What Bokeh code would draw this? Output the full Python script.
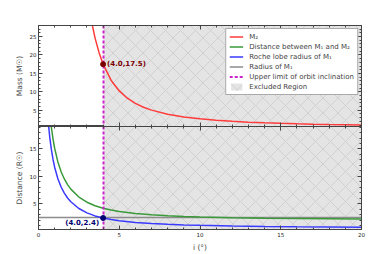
from bokeh.plotting import figure
from bokeh.layouts import column
from bokeh.models import (SingleIntervalTicker, LinearAxis, Legend, LegendItem,
                          Range1d, CustomJSTickFormatter)
from bokeh.embed import file_html
from bokeh.resources import INLINE
from bokeh.core.properties import value

# ---- data ----
incl_m2 = [3.3, 3.5, 3.75, 4.0, 4.5, 5.0, 5.5, 6.0, 6.5, 7.0, 8.0, 9.0, 10.0,
           11.0, 12.0, 13.0, 14.0, 15.0, 16.0, 17.0, 18.0, 19.0, 20.0]
m2_mass = [28.8, 24.65, 20.63, 17.5, 13.1, 10.25, 8.27, 6.88, 5.83, 5.04, 3.93,
           3.19, 2.675, 2.30, 2.01, 1.786, 1.605, 1.455, 1.335, 1.232, 1.143,
           1.066, 1.0]

incl_dist = [0.55, 0.6, 0.7, 0.8, 0.9, 1.0, 1.2, 1.4, 1.6, 1.8, 2.0, 2.5, 3.0,
             3.5, 4.0, 4.5, 5.0, 6.0, 7.0, 8.0, 9.0, 10.0, 12.0, 14.0, 16.0,
             18.0, 20.0]
separation = [27.47, 25.17, 21.59, 18.90, 16.80, 15.13, 12.63, 10.85, 9.52,
              8.49, 7.67, 6.22, 5.28, 4.64, 4.18, 3.84, 3.58, 3.21, 2.97, 2.80,
              2.67, 2.58, 2.45, 2.36, 2.30, 2.25, 2.21]
roche_radius = [21.9, 20.04, 17.06, 14.83, 13.08, 11.67, 9.57, 8.06, 6.94,
                6.05, 5.36, 4.13, 3.33, 2.78, 2.40, 2.11, 1.89, 1.59, 1.38,
                1.24, 1.14, 1.06, 0.94, 0.86, 0.80, 0.76, 0.72]

radius_m1 = 2.4
limit_i = 4.0
m2_at_limit = 17.5
excluded_start = 4.0
excluded_end = 20.0

x_range = (0, 20)
mass_range = (0.6, 28)
dist_range = (0.3, 19.1)

# ---- styles ----
RED = "#ff3b3b"
GREEN = "#3a9a3a"
BLUE = "#3a3aff"
GREY = "#8c8c8c"
MAGENTA = "#cc22cc"
FONT = "DejaVu Sans"
NAN = float("nan")

W = 381
LEFT = 38
RIGHT = 20


def style_axis(ax, hidden=False):
    ax.axis_line_color = "#444444"
    ax.major_tick_line_color = "#444444"
    ax.minor_tick_line_color = "#444444"
    ax.major_tick_in = 4
    ax.major_tick_out = 0
    ax.minor_tick_in = 2
    ax.minor_tick_out = 0
    ax.major_label_text_font = FONT
    ax.major_label_text_font_size = "5.5px"
    ax.major_label_text_color = "#222222"
    ax.axis_label_text_font = FONT
    ax.axis_label_text_font_size = "7.5px"
    ax.axis_label_text_font_style = "normal"
    ax.major_label_standoff = 2
    ax.axis_label_standoff = 3
    if hidden:
        ax.formatter = CustomJSTickFormatter(code="return ''")
        ax.major_label_standoff = 0


def make_ticker():
    return SingleIntervalTicker(interval=5, num_minor_ticks=5)


def finish_axes(p, show_x_labels):
    p.xaxis[0].ticker = make_ticker()
    p.yaxis[0].ticker = make_ticker()
    style_axis(p.xaxis[0], hidden=not show_x_labels)
    style_axis(p.yaxis[0])
    ra = LinearAxis(ticker=make_ticker())
    style_axis(ra, hidden=True)
    p.add_layout(ra, "right")
    ta = LinearAxis(ticker=make_ticker())
    style_axis(ta, hidden=True)
    p.add_layout(ta, "above")


# ---- top panel ----
p1 = figure(width=W, height=126, output_backend="svg", toolbar_location=None,
            x_range=Range1d(*x_range), y_range=Range1d(*mass_range),
            min_border_left=LEFT, min_border_right=RIGHT, min_border_top=25,
            min_border_bottom=0)
p1.yaxis.axis_label = "Mass (M\u2609)"
p1.grid.visible = False
p1.outline_line_color = "#444444"

strip1 = p1.vstrip(x0=[excluded_start], x1=[excluded_end], fill_color="#e4e4e4",
                   line_color=None, hatch_pattern="diagonal_cross",
                   hatch_color="#c2c2c2", hatch_scale=15, hatch_weight=0.6)
red = p1.line(incl_m2, m2_mass, line_color=RED, line_width=1.5)
lim1 = p1.vspan(x=[limit_i], line_color=MAGENTA, line_width=2, line_dash="3 2")
p1.scatter([limit_i], [m2_at_limit], size=5, fill_color="#7a0000", line_color="#7a0000")
p1.text([limit_i], [m2_at_limit], text=[f"({limit_i:.1f},{m2_at_limit:.1f})"],
        x_offset=4, text_baseline="middle", text_align="left",
        text_font=value(FONT), text_font_size="7px", text_font_style="bold",
        text_color="#7a0000")

# legend stand-ins for lines that are drawn in the bottom panel
g_dummy = p1.line([NAN], [NAN], line_color=GREEN, line_width=1.5)
b_dummy = p1.line([NAN], [NAN], line_color=BLUE, line_width=1.5)
r_dummy = p1.line([NAN], [NAN], line_color=GREY, line_width=1.5)

finish_axes(p1, show_x_labels=False)

legend = Legend(items=[
    LegendItem(label="M\u2082", renderers=[red]),
    LegendItem(label="Distance between M\u2081 and M\u2082", renderers=[g_dummy]),
    LegendItem(label="Roche lobe radius of M\u2081", renderers=[b_dummy]),
    LegendItem(label="Radius of M\u2081", renderers=[r_dummy]),
    LegendItem(label="Upper limit of orbit inclination", renderers=[lim1]),
    LegendItem(label="Excluded Region", renderers=[strip1]),
], location="top_right")
legend.label_text_font = FONT
legend.label_text_font_size = "7px"
legend.label_height = 9
legend.label_standoff = 6
legend.glyph_height = 9
legend.glyph_width = 14
legend.spacing = 1
legend.padding = 3
legend.margin = 3
legend.border_line_color = "#555555"
legend.border_line_width = 1
legend.background_fill_alpha = 1.0
p1.add_layout(legend, "center")

# ---- bottom panel ----
p2 = figure(width=W, height=128, output_backend="svg", toolbar_location=None,
            x_range=p1.x_range, y_range=Range1d(*dist_range),
            min_border_left=LEFT, min_border_right=RIGHT, min_border_top=0,
            min_border_bottom=20)
p2.yaxis.axis_label = "Distance (R\u2609)"
p2.xaxis.axis_label = "i (\u00b0)"
p2.grid.visible = False
p2.outline_line_color = "#444444"

p2.vstrip(x0=[excluded_start], x1=[excluded_end], fill_color="#e4e4e4",
          line_color=None, hatch_pattern="diagonal_cross",
          hatch_color="#c2c2c2", hatch_scale=15, hatch_weight=0.6)
p2.hspan(y=[radius_m1], line_color=GREY, line_width=1.5)
p2.line(incl_dist, separation, line_color=GREEN, line_width=1.5)
p2.line(incl_dist, roche_radius, line_color=BLUE, line_width=1.5)
p2.vspan(x=[limit_i], line_color=MAGENTA, line_width=2, line_dash="3 2")
p2.scatter([limit_i], [radius_m1], size=5, fill_color="#000070", line_color="#000070")
p2.text([limit_i], [radius_m1], text=[f"({limit_i:.1f},{radius_m1:.1f})"],
        x_offset=-4, y_offset=5, text_baseline="middle", text_align="right",
        text_font=value(FONT), text_font_size="7px", text_font_style="bold",
        text_color="#000070")

finish_axes(p2, show_x_labels=True)
p2.xaxis[0].axis_label_text_font_style = "italic"

layout = column(p1, p2, spacing=0)
open("out.html", "w").write(file_html(layout, INLINE))
